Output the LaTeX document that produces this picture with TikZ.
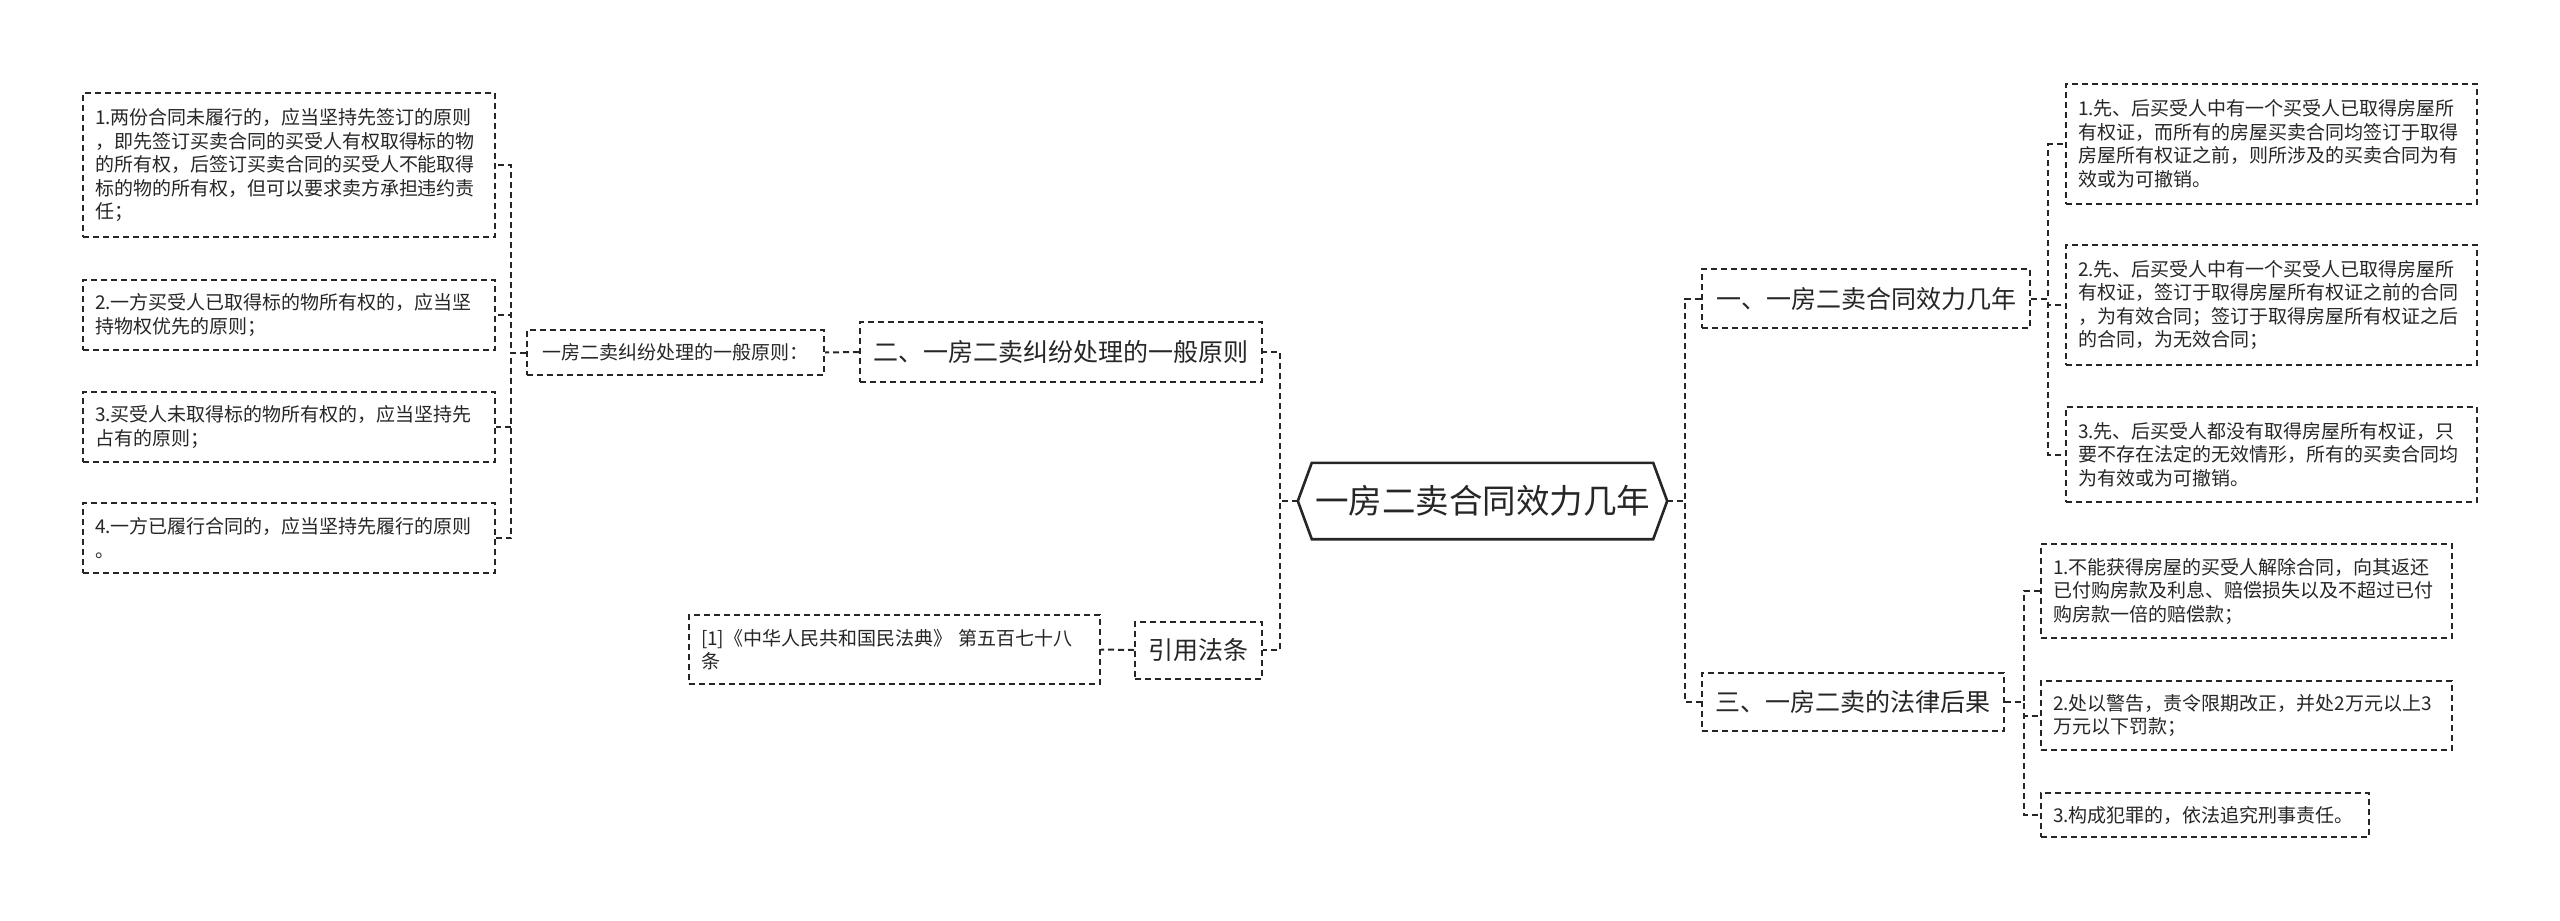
\documentclass[tikz,border=0pt]{standalone}
\usepackage{fontspec}
\setmainfont{Noto Sans CJK SC}
\usetikzlibrary{calc}
\definecolor{ink}{HTML}{262626}
\tikzset{
  box/.style={draw=ink, line width=2pt, dash pattern=on 6pt off 4pt, text=ink, inner xsep=12pt, inner ysep=0pt},
  leaf/.style={box, align=left, font=\fontsize{19}{23.5}\selectfont},
  branch/.style={box, align=center, font=\fontsize{25}{30}\selectfont},
  conn/.style={draw=ink, line width=2pt, dash pattern=on 6pt off 4pt},
  hexline/.style={draw=ink, line width=2.6pt, line join=miter},
}
\begin{document}
\begin{tikzpicture}[x=1pt, y=-1pt]
\fill[white] (0,0) rectangle (2560,921);
\useasboundingbox (0,0) rectangle (2560,921);

% centre
\node[text=ink, font=\fontsize{33.5}{38}\selectfont, minimum width=369pt, minimum height=76pt, inner sep=0pt] (c) at (1482.5,501) {一房二卖合同效力几年};
\draw[hexline] (c.west) -- ($(c.north west)+(14,0)$) -- ($(c.north east)+(-14,0)$) -- (c.east) -- ($(c.south east)+(-14,0)$) -- ($(c.south west)+(14,0)$) -- cycle;

% left branches
\node[branch, minimum width=402pt, minimum height=60pt] (b2) at (1061,352) {二、一房二卖纠纷处理的一般原则};
\node[leaf, align=center, minimum width=297pt, minimum height=45pt] (p1) at (675.5,352.5) {一房二卖纠纷处理的一般原则：};

\node[leaf, text width=388pt, minimum height=144pt] (l1) at (289,165) {1.两份合同未履行的，应当坚持先签订的原则\\，即先签订买卖合同的买受人有权取得标的物\\的所有权，后签订买卖合同的买受人不能取得\\标的物的所有权，但可以要求卖方承担违约责\\任；};
\node[leaf, text width=388pt, minimum height=70pt] (l2) at (289,315) {2.一方买受人已取得标的物所有权的，应当坚\\持物权优先的原则；};
\node[leaf, text width=388pt, minimum height=70pt] (l3) at (289,427) {3.买受人未取得标的物所有权的，应当坚持先\\占有的原则；};
\node[leaf, text width=388pt, minimum height=70pt] (l4) at (289,538) {4.一方已履行合同的，应当坚持先履行的原则\\。};

\node[branch, minimum width=127pt, minimum height=57pt] (b4) at (1198.5,650) {引用法条};
\node[leaf, text width=387pt, minimum height=69pt] (ref) at (894.5,649.5) {[1]《中华人民共和国民法典》 第五百七十八\\条};

% right branches
\node[branch, minimum width=328pt, minimum height=59pt] (b1) at (1866,298.5) {一、一房二卖合同效力几年};
\node[branch, minimum width=302pt, minimum height=58pt] (b3) at (1853,702) {三、一房二卖的法律后果};

\node[leaf, text width=387pt, minimum height=120pt] (r1) at (2271.5,144) {1.先、后买受人中有一个买受人已取得房屋所\\有权证，而所有的房屋买卖合同均签订于取得\\房屋所有权证之前，则所涉及的买卖合同为有\\效或为可撤销。};
\node[leaf, text width=387pt, minimum height=120pt] (r2) at (2271.5,305) {2.先、后买受人中有一个买受人已取得房屋所\\有权证，签订于取得房屋所有权证之前的合同\\，为有效合同；签订于取得房屋所有权证之后\\的合同，为无效合同；};
\node[leaf, text width=387pt, minimum height=95pt] (r3) at (2271.5,454.5) {3.先、后买受人都没有取得房屋所有权证，只\\要不存在法定的无效情形，所有的买卖合同均\\为有效或为可撤销。};

\node[leaf, text width=387pt, minimum height=94pt] (s1) at (2246.5,591) {1.不能获得房屋的买受人解除合同，向其返还\\已付购房款及利息、赔偿损失以及不超过已付\\购房款一倍的赔偿款；};
\node[leaf, text width=387pt, minimum height=69pt] (s2) at (2246.5,715.5) {2.处以警告，责令限期改正，并处2万元以上3\\万元以下罚款；};
\node[leaf, text width=304pt, minimum height=44pt] (s3) at (2205,815) {3.构成犯罪的，依法追究刑事责任。};

% connectors
\draw[conn] (c.west) -- ++(-18,0) |- (b2.east);
\draw[conn] (c.west) -- ++(-18,0) |- (b4.east);
\draw[conn] (c.east) -- ++(18,0) |- (b1.west);
\draw[conn] (c.east) -- ++(18,0) |- (b3.west);

\draw[conn] (b2.west) -- (p1.east);
\draw[conn] (b4.west) -- (ref.east);
\foreach \n in {l1,l2,l3,l4} \draw[conn] (p1.west) -- ++(-15,0) |- (\n.east);
\foreach \n in {r1,r2,r3} \draw[conn] (b1.east) -- ++(17,0) |- (\n.west);
\foreach \n in {s1,s2,s3} \draw[conn] (b3.east) -- ++(19,0) |- (\n.west);
\end{tikzpicture}
\end{document}
